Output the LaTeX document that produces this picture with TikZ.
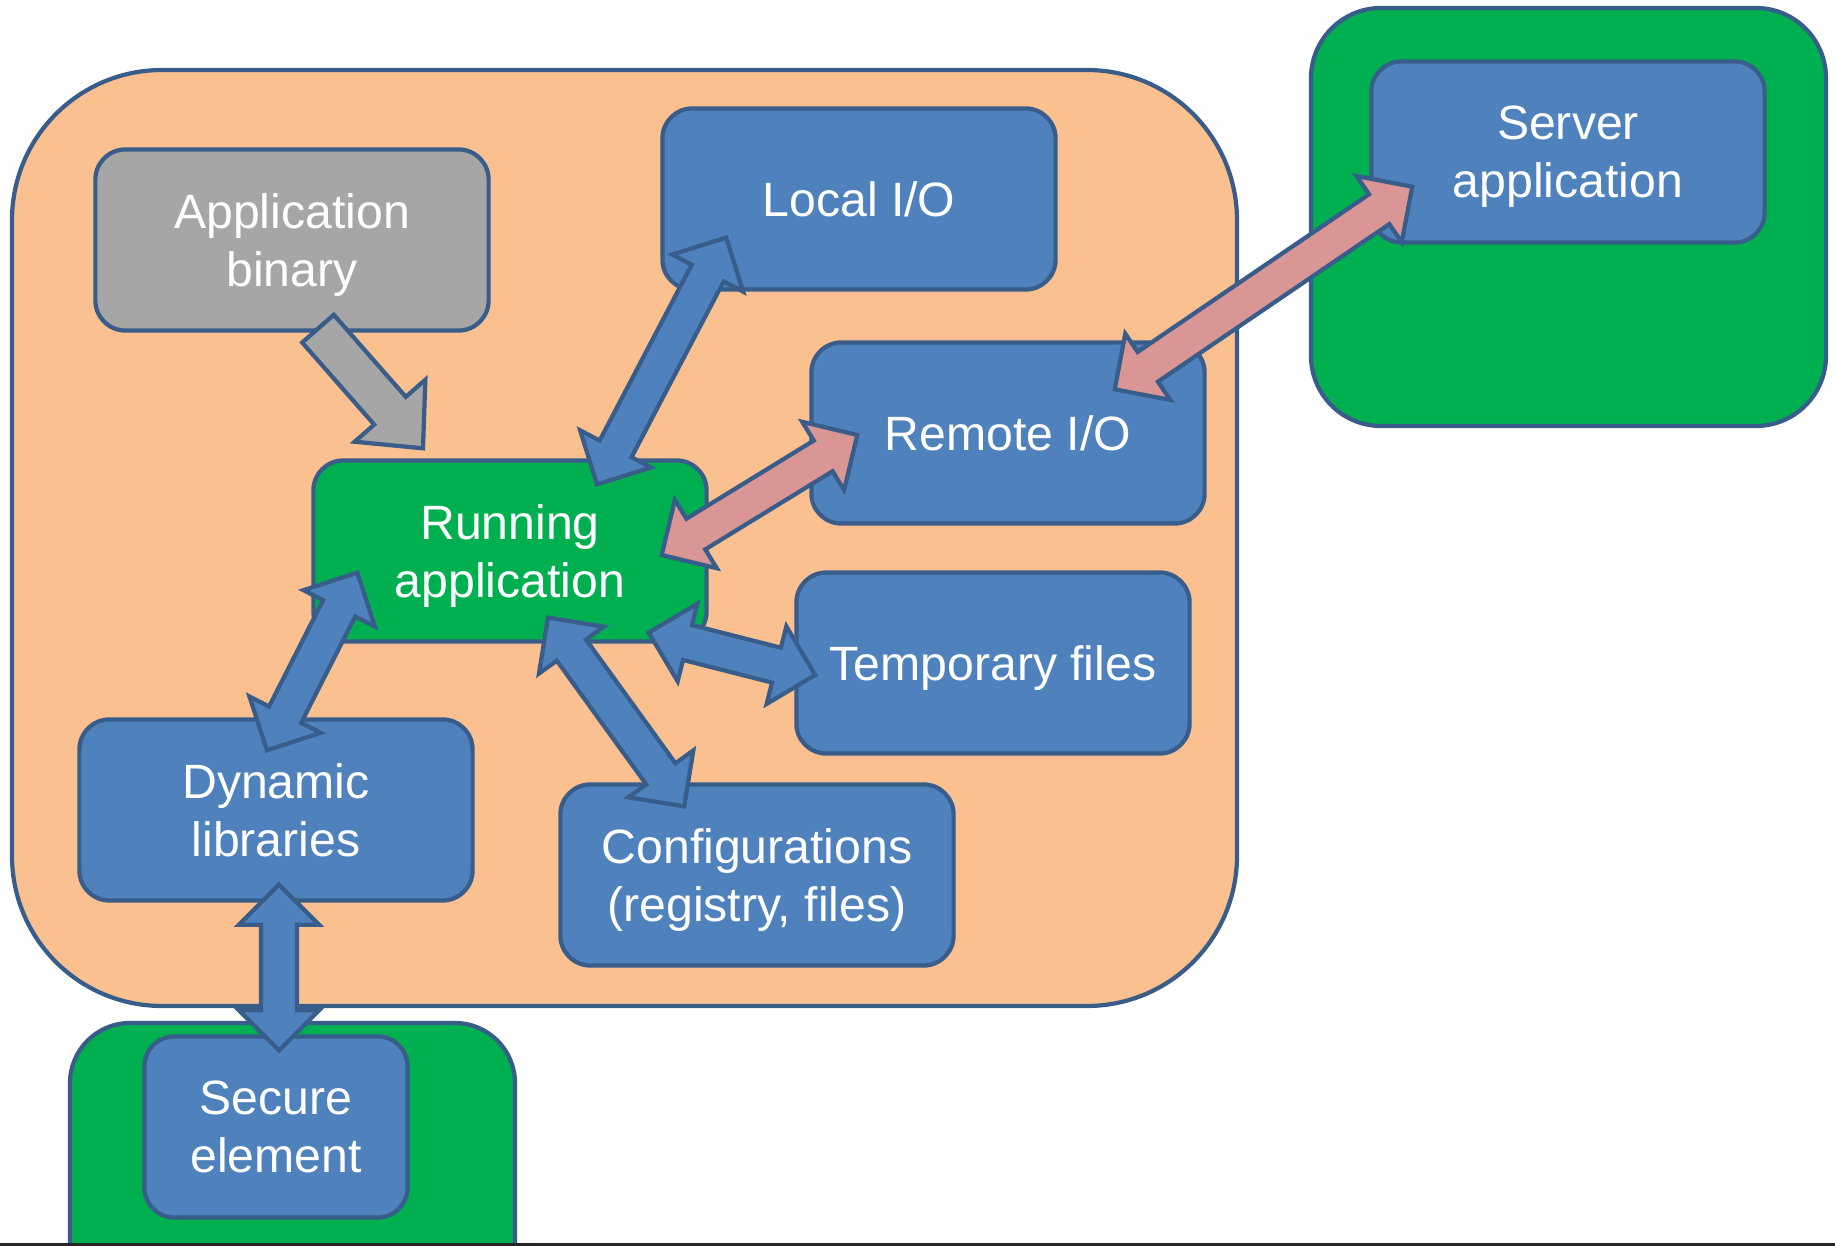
\documentclass[tikz,border=0pt]{standalone}
\usepackage{fontspec}
\setmainfont{Liberation Sans}
\usepackage{tikz}
\usetikzlibrary{calc}

\definecolor{boxblue}{HTML}{4F81BD}
\definecolor{edgeblue}{HTML}{385D8A}
\definecolor{peach}{HTML}{FAC090}
\definecolor{okgreen}{HTML}{00B050}
\definecolor{bingray}{HTML}{A6A6A6}
\definecolor{linkpink}{HTML}{D99694}

\tikzset{
  box/.style={draw=edgeblue, line width=1.2pt, fill=boxblue, rounded corners=0.3cm,
    minimum width=3.93cm, minimum height=1.81cm, align=center, text=white,
    text depth=-2pt, font=\fontsize{13.7}{16.4}\selectfont},
  area/.style={draw=edgeblue, line width=1.2pt},
  block/.style={draw=edgeblue, line width=1.2pt}
}

% block arrow with two heads: fill, from, to
\newcommand{\dblarrow}[3]{%
  \coordinate (ta) at (#2);
  \coordinate (tb) at (#3);
  \coordinate (ha) at ($(ta)!0.4cm!(tb)$);
  \coordinate (hb) at ($(tb)!0.4cm!(ta)$);
  \draw[block, fill=#1] (ta) -- ($(ha)!0.4cm!90:(tb)$) -- ($(ha)!0.18cm!90:(tb)$)
    -- ($(hb)!0.18cm!-90:(ta)$) -- ($(hb)!0.4cm!-90:(ta)$) -- (tb)
    -- ($(hb)!0.4cm!90:(ta)$) -- ($(hb)!0.18cm!90:(ta)$)
    -- ($(ha)!0.18cm!-90:(tb)$) -- ($(ha)!0.4cm!-90:(tb)$) -- cycle;
}

% block arrow with one head
\newcommand{\onearrow}[3]{%
  \coordinate (ta) at (#2);
  \coordinate (tb) at (#3);
  \coordinate (hb) at ($(tb)!0.5cm!(ta)$);
  \draw[block, fill=#1] ($(ta)!0.21cm!90:(tb)$) -- ($(hb)!0.21cm!-90:(ta)$)
    -- ($(hb)!0.47cm!-90:(ta)$) -- (tb) -- ($(hb)!0.47cm!90:(ta)$)
    -- ($(hb)!0.21cm!90:(ta)$) -- ($(ta)!0.21cm!-90:(tb)$) -- cycle;
}

\begin{document}
\begin{tikzpicture}[x=0.01cm,y=-0.01cm]
\useasboundingbox (0,0) rectangle (1835,1246);
\clip (0,0) rectangle (1835,1246);

% containers
\draw[area, fill=peach, rounded corners=1.5cm] (12,70) rectangle (1237,1006);
\draw[area, fill=okgreen, rounded corners=0.7cm] (1311,8) rectangle (1826,426);
\draw[area, fill=okgreen, rounded corners=0.6cm] (70,1023) rectangle (515,1320);

% boxes
\node[box, fill=bingray] (bin) at (292,240) {Application\\binary};
\node[box] (local) at (859,199) {Local I/O};
\node[box] (remote) at (1008,433) {Remote I/O};
\node[box, fill=okgreen] (run) at (510,551) {Running\\application};
\node[box] (temp) at (993,663) {Temporary files};
\node[box] (dyn) at (276,810) {Dynamic\\libraries};
\node[box] (conf) at (757,875) {Configurations\\(registry, files)};
\node[box] (server) at (1568,152) {Server\\application};
\node[box, minimum width=2.63cm] (secure) at (276,1127) {Secure\\element};

% arrows
\onearrow{bingray}{$(bin.south)+(26,-4)$}{$(run.north)+(-87,-10)$}
\dblarrow{boxblue}{$(run.north)+(87,26)$}{$(local.south west)+(66,-54)$}
\dblarrow{linkpink}{$(run.east)+(-47,4)$}{$(remote.west)+(48,2)$}
\dblarrow{linkpink}{$(remote.north east)+(-92,49)$}{$(server.south west)+(43,-58)$}
\dblarrow{boxblue}{$(run.south east)+(-60,-11)$}{$(temp.west)+(21,12)$}
\dblarrow{boxblue}{$(dyn.north)+(-9,33)$}{$(run.south west)+(46,-71)$}
\dblarrow{boxblue}{$(run.south)+(38,-26)$}{$(conf.north west)+(126,24)$}
\dblarrow{boxblue}{$(dyn.south)+(3,-18)$}{$(secure.north)+(3,16)$}

\draw[black!85, line width=0.03cm] (0,1244.5) -- (1835,1244.5);
\end{tikzpicture}
\end{document}
